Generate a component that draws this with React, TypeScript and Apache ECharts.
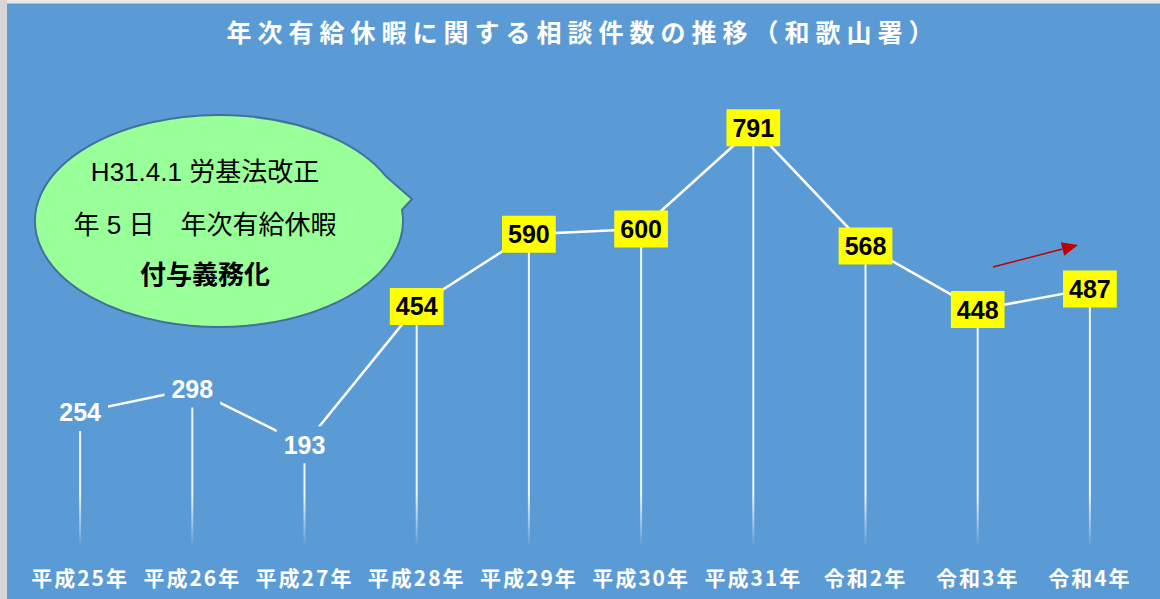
import React, { useEffect, useRef } from "react";
import * as echarts from "echarts";

const categories = ["平成25年", "平成26年", "平成27年", "平成28年", "平成29年", "平成30年", "平成31年", "令和2年", "令和3年", "令和4年"];
const counts = [254, 298, 193, 454, 590, 600, 791, 568, 448, 487];
const boxedFromIndex = 3;
const titleText = "年次有給休暇に関する相談件数の推移（和歌山署）";
const bubbleLines = ["H31.4.1 労基法改正", "年 5 日　年次有給休暇", "付与義務化"];
const yMin = 0;
const yMax = 900;

const BG = "#5B9BD5";
const CJK = "'Noto Sans CJK JP', 'Noto Sans', sans-serif";
const NUM = "'Liberation Sans', Arial, 'Noto Sans CJK JP', sans-serif";

let registered = false;
function registerBubble() {
  if (registered) return;
  const d = "M166.8,-44.8 L193,-22 L183,-11.1 A184,106 0 1,1 166.8,-44.8 Z";
  echarts.graphic.registerShape("bubble", echarts.graphic.extendPath(d, {}));
  registered = true;
}

export default function App() {
  const ref = useRef<HTMLDivElement>(null);

  useEffect(() => {
    if (!ref.current) return;
    registerBubble();
    const chart = echarts.init(ref.current, undefined, { renderer: "svg" });

    const plainLabel = {
      show: true,
      position: "inside",
      color: "#ffffff",
      fontSize: 25,
      fontWeight: "bold",
      fontFamily: NUM,
      backgroundColor: BG,
      padding: [6, 7, 6, 7],
    };
    const boxLabel = {
      show: true,
      position: "inside",
      color: "#000000",
      fontSize: 25,
      fontWeight: "bold",
      fontFamily: NUM,
      lineHeight: 25,
      backgroundColor: "#FFFF00",
      padding: [6, 6, 6, 6],
    };

    const lineData = counts.map((v, i) => ({
      value: v,
      label: i >= boxedFromIndex ? boxLabel : plainLabel,
    }));

    const tipX = 1078, tipY = 245, tailX = 993, tailY = 267;
    const dx = tipX - tailX, dy = tipY - tailY;
    const len = Math.sqrt(dx * dx + dy * dy);
    const ux = dx / len, uy = dy / len;
    const headLen = 16, headHalf = 7;
    const bx = tipX - ux * headLen, by = tipY - uy * headLen;
    const nx = -uy, ny = ux;

    const option: any = {
      animation: false,
      backgroundColor: BG,
      grid: { left: 24, right: 14, top: 70, bottom: 52 },
      xAxis: {
        type: "category",
        data: categories,
        axisLine: { show: false },
        axisTick: { show: false },
        splitLine: { show: false },
        axisLabel: {
          interval: 0,
          color: "#ffffff",
          fontSize: 21,
          fontWeight: "bold",
          fontFamily: CJK,
          margin: 19,
        },
      },
      yAxis: {
        type: "value",
        min: yMin,
        max: yMax,
        show: false,
        splitLine: { show: false },
      },
      series: [
        {
          type: "bar",
          data: counts,
          barWidth: 2,
          silent: true,
          itemStyle: {
            color: {
              type: "linear",
              x: 0,
              y: 495,
              x2: 0,
              y2: 547,
              global: true,
              colorStops: [
                { offset: 0, color: "rgba(255,255,255,0.9)" },
                { offset: 1, color: "rgba(255,255,255,0)" },
              ],
            },
          },
        },
        {
          type: "line",
          data: lineData,
          symbol: "circle",
          symbolSize: 2,
          itemStyle: { color: "#ffffff" },
          lineStyle: { color: "#ffffff", width: 2.5 },
          z: 3,
        },
      ],
      graphic: [
        { type: "rect", shape: { x: 0, y: 0, width: 1160, height: 4 }, style: { fill: "#e8e8e8" }, z: 100 },
        { type: "line", shape: { x1: 0, y1: 3.5, x2: 1160, y2: 3.5 }, style: { stroke: "#bdbdbd", lineWidth: 1 }, z: 101 },
        { type: "rect", shape: { x: 0, y: 0, width: 7, height: 599 }, style: { fill: "#d6d6d6" }, z: 102 },
        {
          type: "text",
          x: 583,
          y: 31,
          style: {
            text: titleText,
            fill: "#ffffff",
            fontSize: 25,
            fontWeight: "bold",
            fontFamily: CJK,
            align: "center",
            verticalAlign: "middle",
            textAlign: "center",
            textVerticalAlign: "middle",
          },
        },
        {
          type: "bubble",
          x: 219,
          y: 221,
          style: { fill: "#99FF99", stroke: "#41719C", lineWidth: 2 },
          z: 10,
        },
        ...bubbleLines.map((t, i) => ({
          type: "text",
          x: 205,
          y: [172, 225, 275][i],
          z: 11,
          style: {
            text: t,
            fill: "#000000",
            fontSize: 26,
            fontWeight: i === 2 ? "bold" : "normal",
            fontFamily: NUM,
            align: "center",
            verticalAlign: "middle",
            textAlign: "center",
            textVerticalAlign: "middle",
          },
        })),
        {
          type: "line",
          shape: { x1: tailX, y1: tailY, x2: bx, y2: by },
          style: { stroke: "#C00000", lineWidth: 1.5 },
          z: 12,
        },
        {
          type: "polygon",
          shape: {
            points: [
              [tipX, tipY],
              [bx + nx * headHalf, by + ny * headHalf],
              [bx - nx * headHalf, by - ny * headHalf],
            ],
          },
          style: { fill: "#C00000" },
          z: 12,
        },
      ],
    };

    chart.setOption(option);

    const applySpacing = () => {
      const el = ref.current;
      if (!el) return;
      el.querySelectorAll("text").forEach((t) => {
        const s = t.textContent || "";
        if (s === titleText) t.setAttribute("letter-spacing", "6");
        else if (categories.includes(s)) t.setAttribute("letter-spacing", "2");
      });
    };
    applySpacing();
    chart.on("finished", applySpacing);
    const raf = requestAnimationFrame(applySpacing);

    return () => {
      cancelAnimationFrame(raf);
      chart.dispose();
    };
  }, []);

  return (
    <div style={{ position: "absolute", left: 0, top: 0, width: 1160, height: 599 }}>
      <div ref={ref} style={{ width: 1160, height: 599 }} />
    </div>
  );
}
